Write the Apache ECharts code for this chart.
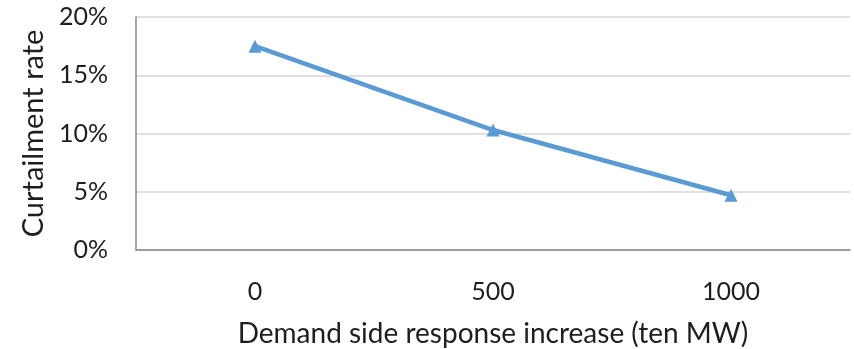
<!DOCTYPE html>
<html>
<head>
<meta charset="utf-8">
<script src="https://cdn.jsdelivr.net/npm/echarts@6/dist/echarts.min.js"></script>
<style>
  html, body { margin: 0; padding: 0; background: #fff; }
  #chart { width: 854px; height: 349px; }
</style>
</head>
<body>
<div id="chart"></div>
<script>
// Demand side response increase (ten MW) vs. curtailment rate (%)
const categories = ['0', '500', '1000'];
const curtailmentRate = [17.5, 10.3, 4.7];
const yTicks = [0, 5, 10, 15, 20];

const FONT = 'Lato';
const TEXT = '#1e1e1e';
const chart = echarts.init(document.getElementById('chart'));
chart.setOption({
  animation: false,
  grid: { left: 136, right: 4, top: 17, bottom: 99, containLabel: false, outerBoundsMode: 'none' },
  xAxis: {
    type: 'category',
    data: categories,
    boundaryGap: true,
    name: 'Demand side response increase (ten MW)',
    nameLocation: 'middle',
    nameGap: 70,
    nameTextStyle: { fontFamily: FONT, fontSize: 28, color: TEXT },
    axisLine: { lineStyle: { color: '#888', width: 1.5 } },
    axisTick: { show: false },
    axisLabel: { fontFamily: FONT, fontSize: 25, color: TEXT, margin: 29 }
  },
  yAxis: {
    type: 'value',
    min: yTicks[0],
    max: yTicks[yTicks.length - 1],
    interval: 5,
    name: 'Curtailment rate',
    nameLocation: 'middle',
    nameGap: 88,
    nameTextStyle: { fontFamily: FONT, fontSize: 29, color: TEXT },
    axisLine: { show: true, lineStyle: { color: '#888', width: 1.5 } },
    axisTick: { show: false },
    axisLabel: { fontFamily: FONT, fontSize: 25, color: TEXT, margin: 28, formatter: v => v + '%' },
    splitLine: { lineStyle: { color: '#d4d4d4', width: 1.5 } }
  },
  series: [{
    type: 'line',
    data: curtailmentRate,
    symbol: 'triangle',
    symbolSize: 13,
    lineStyle: { color: '#5b9bd5', width: 4.5 },
    itemStyle: { color: '#5b9bd5' }
  }]
});
</script>
</body>
</html>
